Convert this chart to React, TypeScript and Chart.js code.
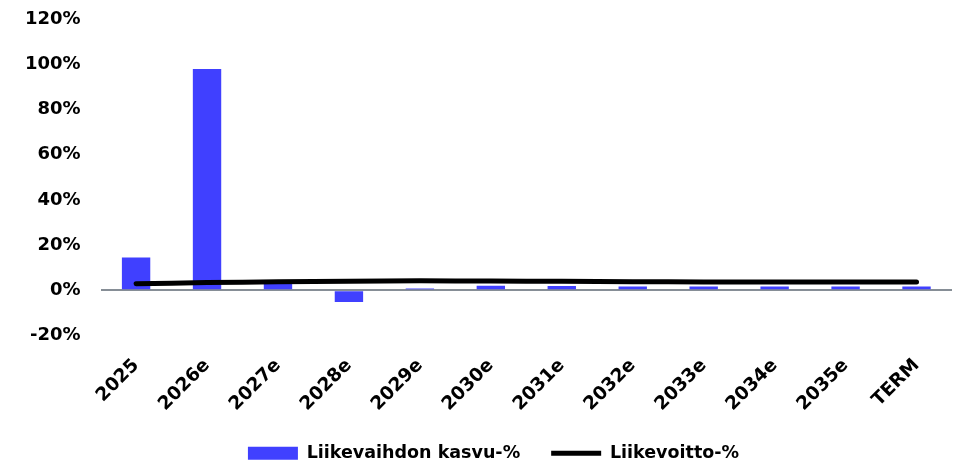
import React, { useEffect, useRef } from "react";
import { Chart, registerables } from "chart.js";

Chart.register(...registerables);

const categories = ["2025", "2026e", "2027e", "2028e", "2029e", "2030e", "2031e", "2032e", "2033e", "2034e", "2035e", "TERM"];
const revenueGrowth = [14.5, 97.9, 3.5, -5.2, 0.8, 2.0, 1.9, 1.7, 1.7, 1.7, 1.7, 1.7];
const operatingMargin = [2.9, 3.4, 3.8, 4.0, 4.2, 4.1, 4.0, 3.8, 3.7, 3.7, 3.7, 3.7];
const yTicks = [-20, 0, 20, 40, 60, 80, 100, 120];
const seriesNames = ["Liikevaihdon kasvu-%", "Liikevoitto-%"];

const FONT = "'DejaVu Sans', sans-serif";

const legendShift = {
  id: "legendShift",
  afterLayout(chart: any) {
    if (chart.legend) {
      chart.legend.left += 15;
      chart.legend.right += 15;
    }
  },
};

export default function App() {
  const ref = useRef<HTMLCanvasElement | null>(null);
  useEffect(() => {
    if (!ref.current) return;
    const chart = new Chart(ref.current, {
      type: "bar",
      data: {
        labels: categories,
        datasets: [
          {
            type: "line",
            label: seriesNames[1],
            data: operatingMargin,
            borderColor: "#000000",
            backgroundColor: "#000000",
            borderWidth: 5,
            borderCapStyle: "round",
            pointRadius: 0,
            pointStyle: "line",
            tension: 0.3,
            order: 0,
          } as any,
          {
            type: "bar",
            label: seriesNames[0],
            data: revenueGrowth,
            backgroundColor: "#4040FF",
            borderWidth: 0,
            pointStyle: "rect",
            barPercentage: 0.4,
            categoryPercentage: 1,
            order: 1,
          } as any,
        ],
      },
      plugins: [legendShift],
      options: {
        animation: false,
        responsive: false,
        maintainAspectRatio: false,
        layout: { padding: { left: 5, right: 7, top: 0, bottom: -6 } },
        plugins: {
          tooltip: { enabled: false },
          legend: {
            position: "bottom",
            reverse: true,
            labels: {
              usePointStyle: true,
              pointStyleWidth: 50,
              boxHeight: 13,
              padding: 31,
              color: "#000",
              font: { family: FONT, size: 17.5, weight: "bold" },
            },
          },
        },
        scales: {
          x: {
            grid: { display: false },
            border: { display: false },
            afterFit: (scale: any) => {
              scale.paddingLeft = 0;
              scale.height -= 13;
            },
            ticks: {
              color: "#000",
              font: { family: FONT, size: 18.5, weight: "bold" },
              minRotation: 45,
              maxRotation: 45,
              padding: 11,
            },
          },
          y: {
            min: -20,
            max: 120,
            afterBuildTicks: (axis: any) => {
              axis.ticks = yTicks.map((v) => ({ value: v }));
            },
            afterFit: (scale: any) => {
              scale.paddingTop = 19;
              scale.paddingBottom = 0;
            },
            grid: {
              drawTicks: false,
              color: (ctx: any) => (ctx.tick && ctx.tick.value === 0 ? "#868E96" : "rgba(0,0,0,0)"),
              lineWidth: 2,
            },
            border: { display: false },
            ticks: {
              color: "#000",
              padding: 20,
              font: { family: FONT, size: 18, weight: "bold" },
              callback: (v: any) => v + "%",
            },
          },
        },
      },
    });
    return () => chart.destroy();
  }, []);
  return (
    <div style={{ position: "absolute", left: 0, top: 0, width: 959, height: 466, background: "#fff" }}>
      <canvas ref={ref} width={959} height={466} style={{ width: 959, height: 466 }} />
    </div>
  );
}
